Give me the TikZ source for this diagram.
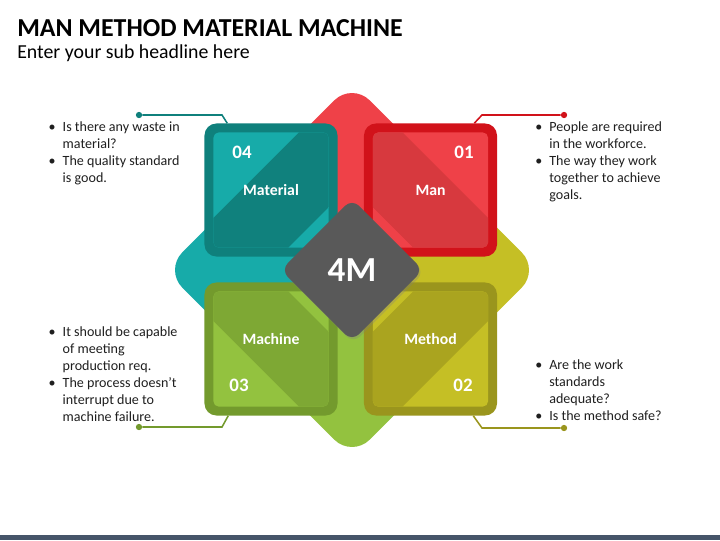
\documentclass[tikz,border=0pt]{standalone}
\usepackage{fontspec}
\setmainfont{Carlito}
\usepackage{tikz}
\usetikzlibrary{calc,positioning,shadows}

\definecolor{manlight}{HTML}{EF4148}
\definecolor{manframe}{HTML}{D1121A}
\definecolor{manband}{HTML}{D7393E}
\definecolor{matlight}{HTML}{17ABA9}
\definecolor{matframe}{HTML}{0F807C}
\definecolor{matband}{HTML}{10817D}
\definecolor{mchlight}{HTML}{93C23F}
\definecolor{mchframe}{HTML}{739A2D}
\definecolor{mchband}{HTML}{7EA834}
\definecolor{mthlight}{HTML}{C5BF25}
\definecolor{mthframe}{HTML}{9A951D}
\definecolor{mthband}{HTML}{AAA41F}
\definecolor{coregray}{HTML}{595959}
\definecolor{barblue}{HTML}{465569}

\tikzset{
    petal/.style={
      rectangle,
      rounded corners=17.8pt,
      minimum size=97.9pt,
      inner sep=0pt,
      rotate=45,
      fill=#1},
    boxframe/.style={
      rectangle,
      rounded corners=8.5pt,
      minimum size=94.6pt,
      inner sep=0pt,
      fill=#1},
    inbox/.style n args={3}{
      rectangle,
      rounded corners=3.6pt,
      minimum size=81.8pt,
      inner sep=0pt,
      fill=#1,
      path picture={
        \coordinate (pc) at (path picture bounding box.center);
        \fill[#2] ($(pc)+(#3:-53)+(#3+90:120)$) -- ($(pc)+(#3:21)+(#3+90:120)$)
          -- ($(pc)+(#3:21)+(#3-90:120)$) -- ($(pc)+(#3:-53)+(#3-90:120)$) -- cycle;}},
    core/.style={
      rectangle,
      rounded corners=7.1pt,
      minimum size=71.6pt,
      inner sep=0pt,
      rotate=45,
      fill=coregray,
      drop shadow={opacity=0.3, shadow xshift=1pt, shadow yshift=-1.5pt}},
    coretxt/.style={text=white, font=\bfseries\fontsize{25}{30}\selectfont, inner sep=0pt},
    boxtxt/.style={text=white, font=\bfseries\fontsize{11.2}{13}\selectfont, inner sep=0pt},
    numtxt/.style={text=white, font=\bfseries\fontsize{13.5}{16}\selectfont, inner sep=0pt},
    dot/.style={circle, fill=#1, inner sep=0pt, minimum size=4.5pt},
    lnk/.style={draw=#1, line width=1.1pt},
    bullets/.style={anchor=base west, inner sep=0pt, text=black!88,
      font=\fontsize{10}{12.1}\selectfont},
}
\newcommand\bul{\makebox[10pt][l]{\textbullet}}

\begin{document}
\begin{tikzpicture}[x=0.025cm, y=0.025cm]
    \useasboundingbox (0,0) rectangle (720,-540);

    % heading
    \node[anchor=base west, inner sep=0pt, font=\bfseries\fontsize{18.4}{22}\selectfont] (title) at (17,-36) {MAN METHOD MATERIAL MACHINE};
    \node[anchor=base west, inner sep=0pt, font=\fontsize{14.1}{17}\selectfont] (subtitle) at (17,-58.3) {Enter your sub headline here};

    % petals
    \node[petal=matlight] (petalMat) at (262,-270) {};
    \node[petal=mthlight] (petalMth) at (442,-270) {};
    \node[petal=mchlight] (petalMch) at (352,-360) {};
    \node[petal=manlight] (petalMan) at (352,-180) {};

    % boxes
    \node[boxframe=manframe] (man) at (430.5,-190) {};
    \node[inbox={manlight}{manband}{45}] (manIn) at (man.center) {};
    \node[boxframe=matframe] (matl) at (271,-190) {};
    \node[inbox={matlight}{matband}{135}] (matlIn) at (matl.center) {};
    \node[boxframe=mchframe] (mch) at (271,-349) {};
    \node[inbox={mchlight}{mchband}{225}] (mchIn) at (mch.center) {};
    \node[boxframe=mthframe] (mth) at (430.5,-349) {};
    \node[inbox={mthlight}{mthband}{315}] (mthIn) at (mth.center) {};

    % centre
    \node[core] (core) at (352,-270) {};
    \node[coretxt] (coreTxt) at (core.center) {4M};

    % box labels
    \node[boxtxt] (manTxt) at (man.center) {Man};
    \node[numtxt] (manNum) at ($(man.center)+(33.5,37.5)$) {01};
    \node[boxtxt] (matlTxt) at (matl.center) {Material};
    \node[numtxt] (matlNum) at ($(matl.center)+(-29,37.5)$) {04};
    \node[boxtxt] (mchTxt) at ($(mch.center)+(0,9.5)$) {Machine};
    \node[numtxt] (mchNum) at ($(mch.center)+(-32,-36)$) {03};
    \node[boxtxt] (mthTxt) at ($(mth.center)+(0,9.5)$) {Method};
    \node[numtxt] (mthNum) at ($(mth.center)+(32.5,-36)$) {02};

    % connectors
    \node[dot=matframe] (dotMat) at (139,-115) {};
    \node[dot=manframe] (dotMan) at (564,-115) {};
    \node[dot=mchframe] (dotMch) at (139,-427) {};
    \node[dot=mthframe] (dotMth) at (564,-428) {};
    \draw[lnk=matframe] (dotMat) -- ++(83,0) -- ($(matl.north west)+(23,0)$);
    \draw[lnk=manframe] (dotMan) -- ++(-82,0) -- ($(man.north east)+(-23,0)$);
    \draw[lnk=mchframe] (dotMch) -- ++(83,0) -- ($(mch.south west)+(24,0)$);
    \draw[lnk=mthframe] (dotMth) -- ++(-82,0) -- ($(mth.south east)+(-24,0)$);

    % texts
    \node[bullets] (txtMat) at (48.4,-131) {\begin{tabular}[t]{@{}l@{}l@{}}
        \bul & Is there any waste in\\ & material?\\
        \bul & The quality standard\\ & is good.\end{tabular}};
    \node[bullets] (txtMan) at (535,-131) {\begin{tabular}[t]{@{}l@{}l@{}}
        \bul & People are required\\ & in the workforce.\\
        \bul & The way they work\\ & together to achieve\\ & goals.\end{tabular}};
    \node[bullets] (txtMch) at (48.4,-336.7) {\begin{tabular}[t]{@{}l@{}l@{}}
        \bul & It should be capable\\ & of meeting\\ & production req.\\
        \bul & The process doesn’t\\ & interrupt due to\\ & machine failure.\end{tabular}};
    \node[bullets] (txtMth) at (535,-369.3) {\begin{tabular}[t]{@{}l@{}l@{}}
        \bul & Are the work\\ & standards\\ & adequate?\\
        \bul & Is the method safe?\end{tabular}};

    % bottom bar
    \fill[barblue] (0,-535) rectangle (720,-540);
\end{tikzpicture}
\end{document}
